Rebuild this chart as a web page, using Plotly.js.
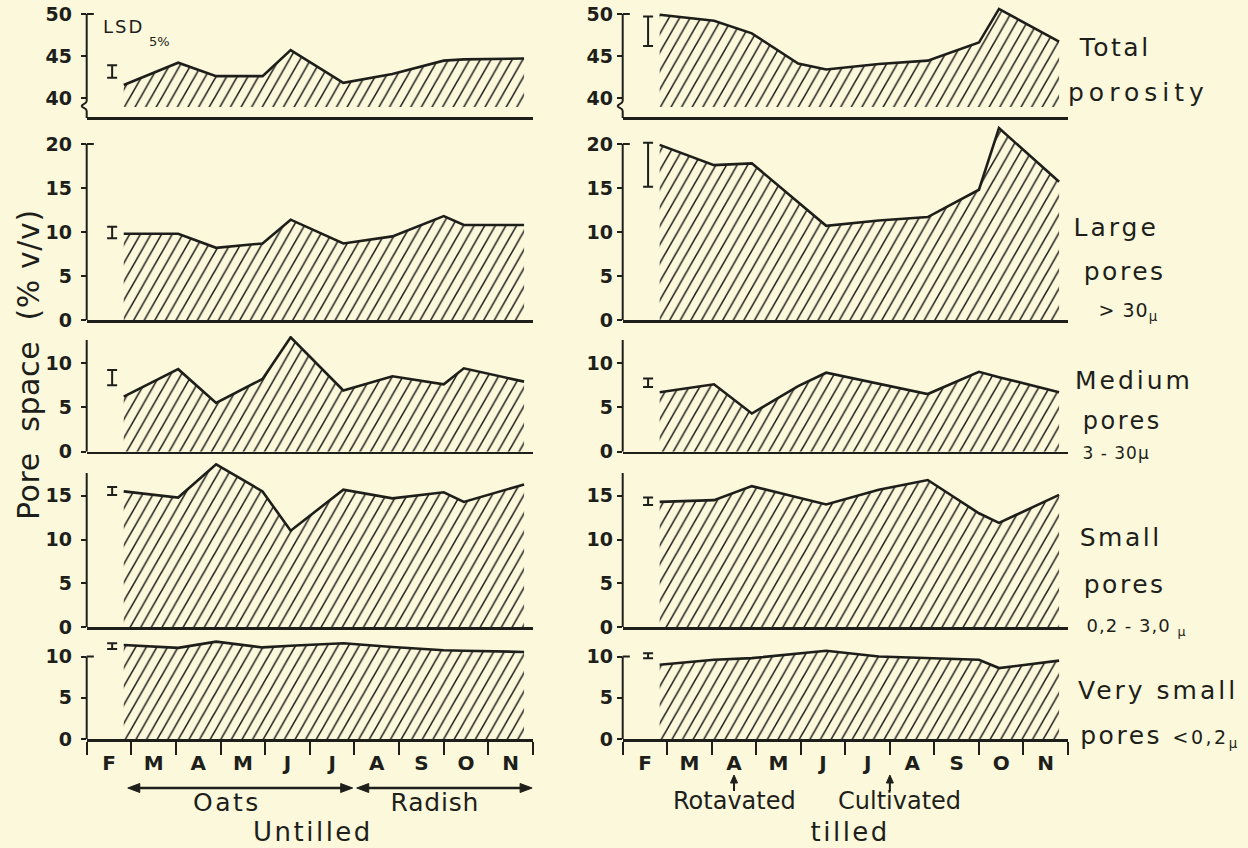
<!DOCTYPE html>
<html>
<head>
<meta charset="utf-8">
<script src="https://cdn.plot.ly/plotly-3.0.1.min.js"></script>
<style>
  html, body { margin: 0; padding: 0; background: #fbf8dc; }
  #chart { width: 1248px; height: 848px; }
</style>
</head>
<body>
<div id="chart"></div>
<script>
// ---------------- DATA ----------------
const months = ['F', 'M', 'A', 'M', 'J', 'J', 'A', 'S', 'O', 'N'];
// sampling dates, in months after 1 February
const sampleMonths = [0.83, 2.05, 2.9, 3.94, 4.57, 5.75, 6.85, 8.0, 8.45, 9.8];

// Untilled (left column), pore space % v/v
const untilledTotal     = [41.55, 44.2, 42.6, 42.6, 45.7, 41.8, 42.85, 44.45, 44.6, 44.7];
const untilledLarge     = [9.8, 9.8, 8.2, 8.7, 11.4, 8.7, 9.5, 11.8, 10.8, 10.8];
const untilledMedium    = [6.2, 9.3, 5.5, 8.2, 12.9, 6.9, 8.5, 7.6, 9.4, 7.9];
const untilledSmall     = [15.5, 14.8, 18.6, 15.5, 11.0, 15.7, 14.7, 15.4, 14.3, 16.3];
const untilledVerySmall = [11.4, 11.05, 11.8, 11.1, 11.3, 11.6, 11.15, 10.75, 10.7, 10.55];

// Tilled (right column)
const tilledTotal     = [49.9, 49.2, 47.7, 44.1, 43.4, 44.05, 44.45, 46.6, 50.6, 46.7];
const tilledLarge     = [19.9, 17.6, 17.8, 13.4, 10.7, 11.3, 11.7, 14.8, 21.8, 15.7];
const tilledMedium    = [6.7, 7.6, 4.3, 7.4, 8.9, 7.7, 6.5, 9.0, 8.4, 6.7];
const tilledSmall     = [14.3, 14.5, 16.1, 14.8, 14.0, 15.7, 16.8, 13.0, 11.9, 15.1];
const tilledVerySmall = [9.0, 9.6, 9.8, 10.4, 10.7, 10.0, 9.8, 9.6, 8.6, 9.5];

// LSD 5% bars (bottom and top), rows: total, large, medium, small, very small
const lsdMonth = 0.57;
const untilledLsdLow  = [42.4, 9.3, 7.5, 15.1, 10.9];
const untilledLsdHigh = [43.9, 10.6, 9.2, 16.0, 11.6];
const tilledLsdLow    = [46.2, 15.15, 7.3, 13.95, 9.8];
const tilledLsdHigh   = [49.7, 20.15, 8.25, 14.8, 10.4];

// y tick values per row
const rowTickVals = [[40, 45, 50], [0, 5, 10, 15, 20], [0, 5, 10], [0, 5, 10, 15], [0, 5, 10]];

// texts
const classLabels = ['Total', 'porosity', 'Large', 'pores', '&gt; 30<sub>μ</sub>',
  'Medium', 'pores', '3 - 30μ', 'Small', 'pores', '0,2 - 3,0 <sub>μ</sub>',
  'Very small', 'pores <span style="font-size:19px">&lt;0,2<sub>μ</sub></span>'];
const yTitle = 'Pore  space  (% v/v)';
const lsdLabel = ['LSD', '5%'];
const untilledCrops = ['Oats', 'Radish'];
const tilledOps = ['Rotavated', 'Cultivated'];
const columnTitles = ['Untilled', 'tilled'];

// ---------------- LAYOUT / STYLE ----------------
const ink = '#1e1f1a', bg = '#fbf8dc';
const W = 1248, H = 848;
const px = v => v / W, py = v => 1 - v / H;
const monthPx = 44.6;

const columns = [
  [untilledTotal, untilledLarge, untilledMedium, untilledSmall, untilledVerySmall],
  [tilledTotal, tilledLarge, tilledMedium, tilledSmall, tilledVerySmall]
];
const lsdLow = [untilledLsdLow, tilledLsdLow];
const lsdHigh = [untilledLsdHigh, tilledLsdHigh];

const colPx = [[86.7, 533], [622.7, 1068]];
const rowPx = [[6, 107], [124, 320], [336, 451.7], [462, 627], [640, 739]];
const rowRange = [[38.93, 50.95], [0, 22.27], [0, 13.04], [0, 18.86], [0, 12.0]];
const rowAxisTop = [50, 20, 12.6, 17.6, 10];
const rowBracket = [true, true, false, false, true];

const traces = [];
const layout = {
  width: W, height: H,
  margin: {l: 0, r: 0, t: 0, b: 0},
  paper_bgcolor: bg, plot_bgcolor: bg,
  showlegend: false, hovermode: false,
  font: {family: 'DejaVu Sans', color: ink, size: 18},
  shapes: [], annotations: []
};

for (let r = 0; r < 5; r++) {
  for (let c = 0; c < 2; c++) {
    const i = r * 2 + c + 1;
    const s = i === 1 ? '' : String(i);
    const xid = 'x' + s, yid = 'y' + s;
    traces.push({
      type: 'scatter', mode: 'lines', x: sampleMonths, y: columns[c][r],
      xaxis: xid, yaxis: yid, fill: 'tozeroy', fillcolor: 'rgba(0,0,0,0)',
      fillpattern: {shape: '/', size: 7.5, solidity: 0.17, fgcolor: ink, bgcolor: 'rgba(0,0,0,0)', fgopacity: 1},
      line: {color: ink, width: 2.6}, hoverinfo: 'skip'
    });
    traces.push({
      type: 'scatter', mode: 'markers', x: [lsdMonth], y: [lsdLow[c][r]],
      xaxis: xid, yaxis: yid, marker: {size: 2, color: 'rgba(0,0,0,0)'},
      error_y: {type: 'data', symmetric: false, array: [lsdHigh[c][r] - lsdLow[c][r]], arrayminus: [0],
                width: 5, thickness: 2, color: ink},
      hoverinfo: 'skip'
    });

    const xa = {
      domain: [px(colPx[c][0]), px(colPx[c][1])], range: [0, months.length], fixedrange: true,
      showline: true, linecolor: ink, linewidth: 2.5, showgrid: false, zeroline: false,
      ticks: '', showticklabels: false
    };
    if (r === 0) { xa.anchor = 'free'; xa.position = py(118); } else { xa.anchor = yid; }
    if (r === 4) {
      Object.assign(xa, {
        tickmode: 'array', tickvals: months.map((_, k) => k + 0.5), ticktext: months,
        showticklabels: true, ticks: 'outside', ticklen: 4, tickcolor: 'rgba(0,0,0,0)',
        tickfont: {size: 20, color: ink, weight: 'bold'},
        minor: {tickmode: 'array', tickvals: Array.from({length: months.length + 1}, (_, k) => k),
                ticks: 'outside', ticklen: 13, tickwidth: 2, tickcolor: ink, showgrid: false}
      });
    }
    layout['xaxis' + s] = xa;
    layout['yaxis' + s] = {
      domain: [py(rowPx[r][1]), py(rowPx[r][0])], range: rowRange[r], fixedrange: true,
      anchor: xid, showline: false, showgrid: false, zeroline: false,
      tickmode: 'array', tickvals: rowTickVals[r], ticks: 'outside', ticklen: 5, tickwidth: 2, tickcolor: ink,
      tickfont: {size: 19, color: ink, weight: 'bold'}, ticklabelstandoff: c === 0 ? 5 : 0,
      ticklabeloverflow: 'allow'
    };
    // y axis line
    layout.shapes.push({type: 'line', xref: xid + ' domain', yref: yid, x0: 0, x1: 0,
      y0: r === 0 ? 40 : 0, y1: rowAxisTop[r], line: {color: ink, width: 2}});
    if (rowBracket[r]) {
      layout.shapes.push({type: 'line', xref: xid + ' domain', yref: yid, x0: 0, x1: 0.016,
        y0: rowAxisTop[r], y1: rowAxisTop[r], line: {color: ink, width: 2}});
    }
    if (r === 0) {
      const X0 = colPx[c][0];
      const P = (x, y) => px(x) + ',' + py(y);
      layout.shapes.push({type: 'path', xref: 'paper', yref: 'paper',
        path: 'M' + P(X0, 98) + ' L' + P(X0, 101) + ' C' + P(X0, 104) + ' ' + P(X0 - 5, 104) + ' ' + P(X0 - 5, 106) +
              ' C' + P(X0 - 5, 108) + ' ' + P(X0, 108) + ' ' + P(X0, 111) + ' L' + P(X0, 118),
        line: {color: ink, width: 2}});
    }
  }
}

// annotation letter spacing (px), by annotation index; spaced texts are centre-anchored
const spacing = {};
function addText(t, x, y, size, anchor, extra, ls) {
  const a = Object.assign({text: t, xref: 'paper', yref: 'paper', x: px(x), y: py(y),
    xanchor: anchor, yanchor: 'middle', showarrow: false, font: {size: size, color: ink}}, extra || {});
  spacing[layout.annotations.length] = ls || 0;
  layout.annotations.push(a);
}

// right-hand class labels: [centre x, centre y, font size, letter spacing]
const classLabelPos = [
  [1114, 48, 25, 2.5], [1138, 93, 25, 5], [1116, 227, 25, 3], [1124, 272, 25, 2.5], [1128, 311, 19, 1],
  [1134, 380, 25, 3], [1122, 421, 24, 2.5], [1116, 453, 17, 1], [1120, 537, 25, 2.5], [1124, 584, 25, 2.5],
  [1136, 627, 18, 1], [1158, 690, 25, 3], [1160, 736, 25, 2.5]
];
classLabels.forEach((t, k) => {
  const p = classLabelPos[k];
  addText(t, p[0], p[1], p[2], 'center', null, p[3]);
});

// LSD label
addText(lsdLabel[0], 123, 26, 18, 'center', null, 2);
addText(lsdLabel[1], 147, 41, 13, 'left', null, 0);

// y title
addText(yTitle, 28, 365, 30, 'center', {textangle: -90}, 0.6);

// crop arrows (untilled), drawn as shapes in month units
const arrowSpans = [[0.92, 5.96], [6.05, 9.98]];
const headLen = 12 / monthPx, headHalf = 4.5 / H, arrowY = py(788);
arrowSpans.forEach(sp => {
  layout.shapes.push({type: 'line', xref: 'x9', yref: 'paper', x0: sp[0] + headLen * 0.8, x1: sp[1] - headLen * 0.8,
    y0: arrowY, y1: arrowY, line: {color: ink, width: 2.5}});
  layout.shapes.push({type: 'path', xref: 'x9', yref: 'paper', fillcolor: ink, line: {color: ink, width: 1},
    path: 'M' + sp[0] + ',' + arrowY + ' L' + (sp[0] + headLen) + ',' + (arrowY + headHalf) +
          ' L' + (sp[0] + headLen) + ',' + (arrowY - headHalf) + ' Z'});
  layout.shapes.push({type: 'path', xref: 'x9', yref: 'paper', fillcolor: ink, line: {color: ink, width: 1},
    path: 'M' + sp[1] + ',' + arrowY + ' L' + (sp[1] - headLen) + ',' + (arrowY + headHalf) +
          ' L' + (sp[1] - headLen) + ',' + (arrowY - headHalf) + ' Z'});
});
const cropTextPos = [[227, 802, 2.5], [435, 802, 0.8]];
untilledCrops.forEach((t, k) => addText(t, cropTextPos[k][0], cropTextPos[k][1], 25, 'center', null, cropTextPos[k][2]));

// tillage arrows (tilled)
const opMonths = [2.5, 6.0];
const upHalf = 3.5 / monthPx;
opMonths.forEach(m => {
  layout.shapes.push({type: 'line', xref: 'x10', yref: 'paper', x0: m, x1: m, y0: py(791), y1: py(781),
    line: {color: ink, width: 2}});
  layout.shapes.push({type: 'path', xref: 'x10', yref: 'paper', fillcolor: ink, line: {color: ink, width: 1},
    path: 'M' + m + ',' + py(775) + ' L' + (m - upHalf) + ',' + py(783) + ' L' + (m + upHalf) + ',' + py(783) + ' Z'});
});
const opTextPos = [[734, 801], [899, 801]];
tilledOps.forEach((t, k) => addText(t, opTextPos[k][0], opTextPos[k][1], 24, 'center', null, 0));

// column titles
const colTitlePos = [[313, 832, 2.5], [850, 832, 2.5]];
columnTitles.forEach((t, k) => addText(t, colTitlePos[k][0], colTitlePos[k][1], 26, 'center', null, colTitlePos[k][2]));

// letter spacing via CSS
const css = Object.keys(spacing).filter(k => spacing[k]).map(k =>
  '#chart g.annotation[data-index="' + k + '"] text { letter-spacing: ' + spacing[k] + 'px; }').join('\n');
const st = document.createElement('style');
st.textContent = css;
document.head.appendChild(st);

Plotly.newPlot('chart', traces, layout, {staticPlot: true, displayModeBar: false}).then(() => {
  document.querySelectorAll('#chart pattern').forEach(p => p.setAttribute('patternTransform', 'scale(1,1.75)'));
});
</script>
</body>
</html>
